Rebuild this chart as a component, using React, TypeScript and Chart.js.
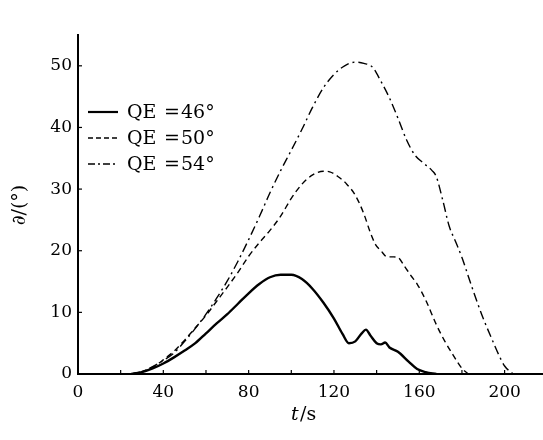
import React, { useEffect, useRef } from "react";
import { Chart, registerables } from "chart.js";

Chart.register(...registerables);

const seriesNames = ["QE=46°", "QE=50°", "QE=54°"];

const tQE46 = [25, 30, 35, 40, 45, 50, 55, 60, 65, 70, 75, 80, 85, 90, 95, 100, 105, 110, 115, 120, 124, 127, 130, 133, 135, 137, 140, 142, 144, 146, 150, 155, 159, 163, 168];
const vQE46 = [0, 0.3, 0.9, 1.7, 2.7, 3.8, 5.0, 6.6, 8.2, 9.7, 11.4, 13.1, 14.6, 15.7, 16.1, 16.1, 15.4, 13.8, 11.6, 9.0, 6.5, 5.0, 5.3, 6.6, 7.2, 6.3, 5.0, 4.8, 5.1, 4.3, 3.6, 2.0, 0.8, 0.3, 0];

const tQE50 = [25, 30, 35, 40, 45, 50, 55, 60, 65, 70, 75, 80, 85, 90, 95, 100, 105, 110, 115, 118, 122, 126, 130, 134, 137, 139.5, 142, 145, 148, 150, 153, 156, 159, 163, 168, 172, 176, 180, 183];
const vQE50 = [0, 0.4, 1.1, 2.3, 3.7, 5.5, 7.5, 9.5, 11.8, 14.1, 16.5, 19.1, 21.3, 23.3, 25.6, 28.5, 30.8, 32.3, 32.9, 32.8, 32.0, 30.8, 29.0, 26.0, 23.0, 21.0, 20.0, 19.0, 19.0, 18.9, 17.5, 16.0, 14.6, 12.0, 8.0, 5.3, 3.0, 0.9, 0];

const tQE54 = [25, 30, 35, 40, 45, 50, 55, 60, 65, 70, 75, 80, 85, 90, 95, 100, 105, 110, 115, 120, 125, 130, 134, 138, 142, 146, 150, 154, 158, 162, 166, 168, 171, 174, 177, 180, 184, 187, 190, 194, 197, 200, 204];
const vQE54 = [0, 0.4, 1.2, 2.2, 3.4, 5.3, 7.4, 9.7, 12.3, 15.1, 18.3, 21.8, 25.5, 29.4, 33.0, 36.3, 39.7, 43.3, 46.4, 48.6, 50.0, 50.6, 50.4, 49.8, 47.5, 44.8, 41.5, 38.0, 35.5, 34.2, 33.0, 32.0, 28.2, 24.0, 21.5, 18.9, 14.8, 11.8, 9.0, 5.7, 3.3, 1.3, 0];

const xTickValues = [0, 20, 40, 60, 80, 100, 120, 140, 160, 180, 200];
const xLabelValues = [0, 40, 80, 120, 160, 200];
const yTickValues = [0, 10, 20, 30, 40, 50];

const toPts = (t: number[], v: number[]) => t.map((x, i) => ({ x, y: v[i] }));

const FONT = "'DejaVu Serif', 'Liberation Serif', serif";

const overlay = {
  id: "overlay",
  afterDraw(chart: any) {
    const ctx = chart.ctx as CanvasRenderingContext2D;
    const xs = chart.scales.x;
    const ys = chart.scales.y;
    const area = chart.chartArea;
    ctx.save();
    ctx.strokeStyle = "#000";
    ctx.fillStyle = "#000";
    // inside ticks
    ctx.lineWidth = 1.2;
    ctx.setLineDash([]);
    xTickValues.forEach((v) => {
      if (v === 0) return;
      const px = xs.getPixelForValue(v);
      ctx.beginPath();
      ctx.moveTo(px, area.bottom);
      ctx.lineTo(px, area.bottom - 4);
      ctx.stroke();
    });
    yTickValues.forEach((v) => {
      if (v === 0) return;
      const py = ys.getPixelForValue(v);
      ctx.beginPath();
      ctx.moveTo(area.left, py);
      ctx.lineTo(area.left + 4, py);
      ctx.stroke();
    });
    // legend
    const rows = [112, 138, 164];
    const dashes = [[], [5, 3], [7, 3, 2, 3]];
    const widths = [2.2, 1.4, 1.4];
    const nums = ["46°", "50°", "54°"];
    rows.forEach((y, i) => {
      ctx.beginPath();
      ctx.setLineDash(dashes[i]);
      ctx.lineWidth = widths[i];
      ctx.moveTo(88, y);
      ctx.lineTo(118, y);
      ctx.stroke();
      ctx.setLineDash([]);
      ctx.font = `19px ${FONT}`;
      ctx.textBaseline = "middle";
      ctx.textAlign = "left";
      ctx.fillText("QE", 127, y + 1);
      ctx.fillText("=", 164, y + 1);
      ctx.fillText(nums[i], 181, y + 1);
    });
    // axis titles
    ctx.font = `19px ${FONT}`;
    ctx.textAlign = "center";
    ctx.textBaseline = "middle";
    ctx.save();
    ctx.translate(20, 205);
    ctx.rotate(-Math.PI / 2);
    ctx.fillText("∂/(°)", 0, 0);
    ctx.restore();
    ctx.textAlign = "left";
    ctx.font = `italic 19px ${FONT}`;
    ctx.fillText("t", 291, 415);
    ctx.font = `19px ${FONT}`;
    ctx.fillText("/s", 300, 415);
    ctx.restore();
  },
};

export default function App() {
  const ref = useRef<HTMLCanvasElement | null>(null);
  useEffect(() => {
    document.body.style.margin = "0";
    const canvas = ref.current!;
    const chart = new Chart(canvas, {
      type: "line",
      data: {
        datasets: [
          {
            label: seriesNames[0],
            data: toPts(tQE46, vQE46),
            borderColor: "#000",
            borderWidth: 2.4,
            pointRadius: 0,
            cubicInterpolationMode: "monotone",
          },
          {
            label: seriesNames[1],
            data: toPts(tQE50, vQE50),
            borderColor: "#000",
            borderWidth: 1.4,
            borderDash: [6, 4],
            pointRadius: 0,
            cubicInterpolationMode: "monotone",
          },
          {
            label: seriesNames[2],
            data: toPts(tQE54, vQE54),
            borderColor: "#000",
            borderWidth: 1.4,
            borderDash: [9, 4, 2, 4],
            pointRadius: 0,
            cubicInterpolationMode: "monotone",
          },
        ],
      },
      options: {
        animation: false,
        responsive: false,
        layout: { padding: { top: 35, right: 0, left: 0, bottom: 0 } },
        plugins: { legend: { display: false }, tooltip: { enabled: false } },
        scales: {
          x: {
            type: "linear",
            min: 0,
            max: 218,
            afterBuildTicks: (s: any) => {
              s.ticks = xTickValues.map((v) => ({ value: v }));
            },
            afterFit: (s: any) => {
              s.height = 66;
            },
            grid: { display: false, drawTicks: false },
            border: { display: true, color: "#000", width: 2 },
            ticks: {
              color: "#000",
              padding: 8,
              maxRotation: 0,
              autoSkip: false,
              font: { family: FONT, size: 17 },
              callback: (v: any) => (xLabelValues.includes(Number(v)) ? String(v) : ""),
            },
          },
          y: {
            type: "linear",
            min: 0,
            max: 55,
            afterBuildTicks: (s: any) => {
              s.ticks = yTickValues.map((v) => ({ value: v }));
            },
            afterFit: (s: any) => {
              s.width = 78;
            },
            grid: { display: false, drawTicks: false },
            border: { display: true, color: "#000", width: 2 },
            ticks: {
              color: "#000",
              padding: 6,
              autoSkip: false,
              font: { family: FONT, size: 17 },
              callback: (v: any) => String(v),
            },
          },
        },
      },
      plugins: [overlay],
    });
    return () => chart.destroy();
  }, []);
  return <canvas ref={ref} width={543} height={440} style={{ display: "block" }} />;
}
